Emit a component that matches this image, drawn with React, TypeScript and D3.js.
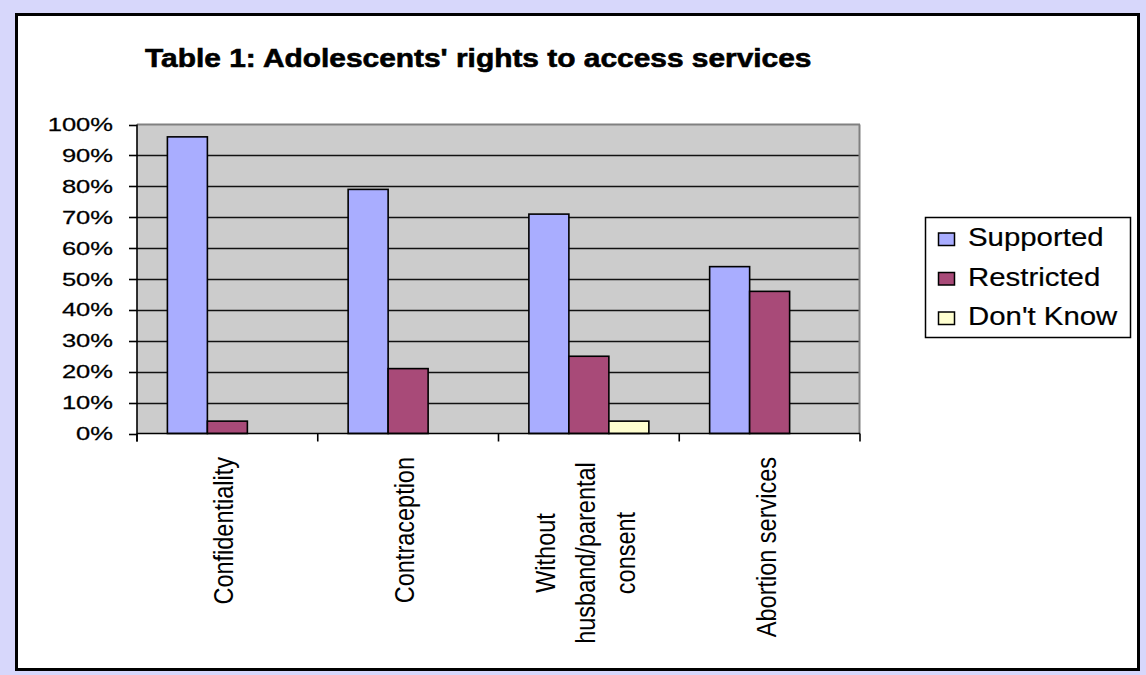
import React from "react";
import * as d3 from "d3";

const categories = [
  "Confidentiality",
  "Contraception",
  "Without husband/parental consent",
  "Abortion services",
];
const categoryLines = [
  ["Confidentiality"],
  ["Contraception"],
  ["Without", "husband/parental", "consent"],
  ["Abortion services"],
];
const seriesNames = ["Supported", "Restricted", "Don't Know"];
const supported = [0.96, 0.79, 0.71, 0.54];
const restricted = [0.04, 0.21, 0.25, 0.46];
const dontKnow = [0, 0, 0.04, 0];
const seriesValues = [supported, restricted, dontKnow];
const seriesColors = ["#a9adff", "#a84a78", "#ffffd0"];
const yTicks = [0, 0.1, 0.2, 0.3, 0.4, 0.5, 0.6, 0.7, 0.8, 0.9, 1.0];
const title = "Table 1: Adolescents' rights to access services";

const W = 1146;
const H = 675;
const plot = { left: 137, right: 860, top: 124.5, bottom: 433.5 };
const FONT = "'Liberation Sans', Arial, sans-serif";

export default function App() {
  const x = d3
    .scaleBand<string>()
    .domain(categories)
    .range([plot.left, plot.right])
    .padding(0);
  const inner = d3
    .scaleBand<string>()
    .domain(seriesNames)
    .range([0, x.bandwidth()])
    .paddingInner(0)
    .paddingOuter(0.76);
  const y = d3.scaleLinear().domain([0, 1]).range([plot.bottom, plot.top]);
  const fmt = d3.format(".0%");

  const boundaries = [plot.left, ...categories.map((c) => (x(c) as number) + x.bandwidth())];

  return (
    <svg
      width={W}
      height={H}
      style={{ position: "absolute", left: 0, top: 0, display: "block" }}
      fontFamily={FONT}
    >
      <rect x={0} y={0} width={W} height={H} fill="#d7d7fb" />
      <rect x={16.5} y={14.5} width={1122} height={655} fill="#ffffff" stroke="#000" strokeWidth={3} />

      {/* title */}
      <text
        transform={`translate(145,66.5) scale(1.15,1)`}
        fontSize={26}
        fontWeight="bold"
        fill="#000"
        stroke="#000"
        strokeWidth={0.6}
      >
        {title}
      </text>

      {/* plot background */}
      <rect
        x={plot.left}
        y={plot.top}
        width={plot.right - plot.left}
        height={plot.bottom - plot.top}
        fill="#cccccc"
      />
      {/* grid lines */}
      {yTicks.slice(1, -1).map((t) => (
        <line
          key={"g" + t}
          x1={plot.left}
          x2={plot.right}
          y1={Math.round(y(t)) + 0.5}
          y2={Math.round(y(t)) + 0.5}
          stroke="#111"
          strokeWidth={1.6}
        />
      ))}
      {/* plot border top/right gray */}
      <line x1={plot.left} x2={plot.right} y1={plot.top} y2={plot.top} stroke="#808080" strokeWidth={2} />
      <line x1={plot.right - 0.5} x2={plot.right - 0.5} y1={plot.top} y2={plot.bottom} stroke="#808080" strokeWidth={2} />

      {/* bars */}
      {seriesValues.map((vals, si) =>
        vals.map((v, ci) => {
          if (v <= 0) return null;
          const bx = (x(categories[ci]) as number) + (inner(seriesNames[si]) as number);
          return (
            <rect
              key={`b${si}-${ci}`}
              x={bx}
              y={y(v)}
              width={inner.bandwidth()}
              height={y(0) - y(v)}
              fill={seriesColors[si]}
              stroke="#000"
              strokeWidth={1.6}
            />
          );
        })
      )}

      {/* axes */}
      <line x1={plot.left} x2={plot.left} y1={plot.top} y2={plot.bottom + 8} stroke="#000" strokeWidth={1.6} />
      <line x1={plot.left} x2={plot.right} y1={plot.bottom} y2={plot.bottom} stroke="#000" strokeWidth={1.6} />
      {yTicks.map((t) => (
        <g key={"t" + t}>
          <line
            x1={plot.left - 8}
            x2={plot.left}
            y1={Math.round(y(t)) + 0.5}
            y2={Math.round(y(t)) + 0.5}
            stroke="#000"
            strokeWidth={1.6}
          />
          <text
            transform={`translate(113,${y(t) + 6.5}) scale(1.38,1)`}
            textAnchor="end"
            fontSize={18.5}
            fill="#000"
            stroke="#000"
            strokeWidth={0.25}
          >
            {fmt(t)}
          </text>
        </g>
      ))}
      {boundaries.map((bx, i) => (
        <line
          key={"xt" + i}
          x1={bx}
          x2={bx}
          y1={plot.bottom}
          y2={plot.bottom + 8}
          stroke="#000"
          strokeWidth={1.6}
        />
      ))}

      {/* category labels */}
      {categories.map((c, ci) => {
        const cx = (x(c) as number) + x.bandwidth() / 2;
        const lines = categoryLines[ci];
        const n = lines.length;
        return lines.map((ln, li) => {
          const bx = cx + 6 + (li - (n - 1) / 2) * 40;
          const single = n === 1;
          return (
            <text
              key={`c${ci}-${li}`}
              transform={`translate(${bx},${single ? 457 : 553}) rotate(-90) scale(1,1.19)`}
              textAnchor={single ? "end" : "middle"}
              fontSize={23.5}
              fill="#000"
            >
              {ln}
            </text>
          );
        });
      })}

      {/* legend */}
      <rect x={925.5} y={217.5} width={205} height={120} fill="#fff" stroke="#000" strokeWidth={1.5} />
      {seriesNames.map((s, i) => {
        const base = 246 + i * 39.5;
        return (
          <g key={"l" + s}>
            <rect x={938.5} y={base - 13} width={16} height={12.5} fill={seriesColors[i]} stroke="#000" strokeWidth={1.5} />
            <text transform={`translate(968,${base}) scale(1.13,1)`} fontSize={26} fill="#000" stroke="#000" strokeWidth={0.2}>
              {s}
            </text>
          </g>
        );
      })}
    </svg>
  );
}
